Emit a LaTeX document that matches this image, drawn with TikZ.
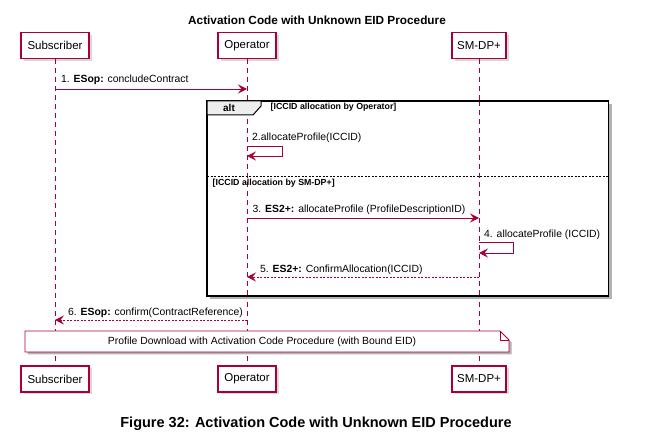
\documentclass[tikz,border=0pt]{standalone}
\usepackage{fontspec}
\setmainfont{Liberation Sans}
\usetikzlibrary{arrows.meta,shadows}
\definecolor{puml}{HTML}{A80036}
\definecolor{tabgray}{HTML}{EEEEEE}
\tikzset{
  part/.style={draw=puml, line width=1.1pt, fill=white, minimum height=26pt, inner sep=0pt,
    font=\fontsize{11.5}{13}\selectfont,
    drop shadow={shadow xshift=2.5pt, shadow yshift=-2.5pt, fill=black!30}},
  lifeline/.style={draw=puml, line width=0.9pt, dash pattern=on 5pt off 4pt},
  msg/.style={draw=puml, line width=0.9pt, -{Stealth[length=9pt,width=9pt,inset=3.5pt]}},
  rmsg/.style={msg, dash pattern=on 2pt off 1.5pt},
  mtext/.style={anchor=west, inner sep=0pt, font=\fontsize{10.4}{12}\selectfont},
  cond/.style={anchor=west, inner sep=0pt, font=\fontsize{8.8}{10}\bfseries\selectfont},
}
\begin{document}
\begin{tikzpicture}[x=1pt,y=-1pt]
\useasboundingbox (0,0) rectangle (651,443);
% title
\node[font=\fontsize{11.8}{13}\bfseries\selectfont] (title) at (317,20) {Activation Code with Unknown EID Procedure};
% participants
\node[part, minimum width=68pt] (sub) at (55,45.5) {Subscriber};
\node[part, minimum width=58pt] (op) at (247,45.5) {Operator};
\node[part, minimum width=54pt] (sm) at (479,45.5) {SM-DP+};
\node[part, minimum width=68pt] (subB) at (55,379) {Subscriber};
\node[part, minimum width=58pt] (opB) at (247,379) {Operator};
\node[part, minimum width=54pt] (smB) at (479,379) {SM-DP+};
% lifelines
\draw[lifeline] (sub.south) -- (subB.north);
\draw[lifeline] (op.south) -- (opB.north);
\draw[lifeline] (sm.south) -- (smB.north);
% coordinates on lifelines
\coordinate (s1) at (55,89);   \coordinate (o1) at (247,89);
\coordinate (o2) at (247,146); \coordinate (o2b) at (247,156);
\coordinate (o3) at (247,218); \coordinate (m3) at (479,218);
\coordinate (m4) at (479,242); \coordinate (m4b) at (479,253);
\coordinate (m5) at (479,277); \coordinate (o5) at (247,277);
\coordinate (o6) at (247,320); \coordinate (s6) at (55,320);
% message 1
\node[mtext] (t1) at (61,80) {1. \textbf{ESop:} concludeContract};
\draw[msg] (s1) -- (o1);
% alt frame
\fill[black!30] (210,104) rectangle (611.5,299.5);
\fill[white] (207,101) rectangle (608.5,296);
\draw[lifeline] (247,101) -- (247,296);
\draw[lifeline] (479,101) -- (479,296);
\draw[line width=1.5pt] (207,101) rectangle (608.5,296);
\draw[line width=1pt, fill=tabgray] (207,101) -- (261,101) -- (261,106) -- (253,115) -- (207,115) -- cycle;
\node[font=\fontsize{10}{11}\bfseries\selectfont, inner sep=0pt] (alt) at (229,108) {alt};
\node[cond] (c1) at (270.5,107.5) {[ICCID allocation by Operator]};
% message 2
\node[mtext] (t2) at (252,137.5) {2.allocateProfile(ICCID)};
\draw[msg] (o2) -- ++(35,0) |- (o2b);
% separator
\draw[line width=0.6pt, dash pattern=on 2pt off 1.5pt] (207,176) -- (608.5,176);
\node[cond] (c2) at (212.5,183) {[ICCID allocation by SM-DP+]};
% message 3
\node[mtext] (t3) at (252.5,210) {3. \textbf{ES2+:} allocateProfile (ProfileDescriptionID)};
\draw[msg] (o3) -- (m3);
% message 4
\node[mtext] (t4) at (484,235) {4. allocateProfile (ICCID)};
\draw[msg] (m4) -- ++(34,0) |- (m4b);
% message 5
\node[mtext] (t5) at (260,269.5) {5. \textbf{ES2+:} ConfirmAllocation(ICCID)};
\draw[rmsg] (m5) -- (o5);
% message 6
\node[mtext] (t6) at (68,312.5) {6. \textbf{ESop:} confirm(ContractReference)};
\draw[rmsg] (o6) -- (s6);
% note
\fill[black!30] (27.5,333.5) -- (502.5,333.5) -- (511.5,342.5) -- (511.5,354.5) -- (27.5,354.5) -- cycle;
\draw[puml, line width=0.9pt, fill=white] (25,331) -- (500,331) -- (509,340) -- (509,352) -- (25,352) -- cycle;
\draw[puml, line width=0.9pt] (500,331) -- (500,340) -- (509,340);
\node[inner sep=0pt, font=\fontsize{10.4}{12}\selectfont] (note) at (262,341.5) {Profile Download with Activation Code Procedure (with Bound EID)};
% caption
\node[font=\fontsize{14.5}{16}\bfseries\selectfont] (cap) at (316,424) {Figure 32: Activation Code with Unknown EID Procedure};
\end{tikzpicture}
\end{document}
